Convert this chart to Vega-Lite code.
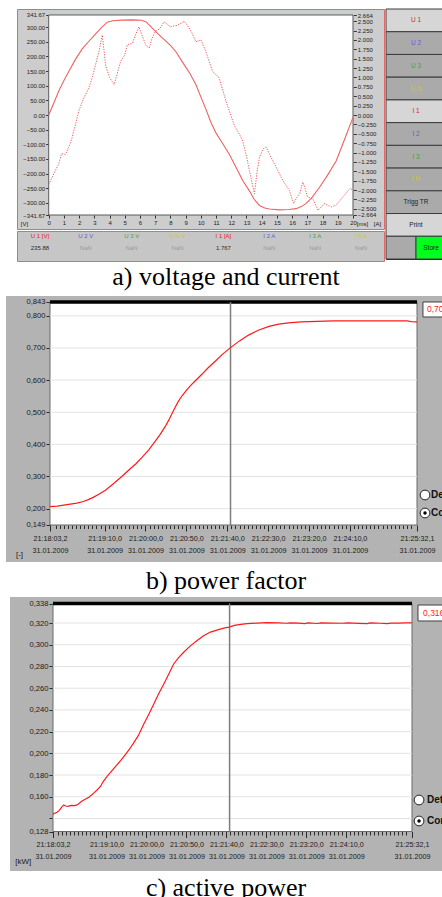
{
"$schema": "https://vega.github.io/schema/vega-lite/v6.json",
"background": "white",
"padding": {"left": 0, "top": 8, "right": 0, "bottom": 0},
"spacing": 0,
"config": {"view": {"stroke": null}, "concat": {"spacing": 0}, "axis": {"labelOverlap": false, "labelFlush": false, "grid": false, "labelBound": false}},
"vconcat": [
{
 "spacing": 0,
 "hconcat": [
  {"width": 15, "height": 250, "data": {"values": [{}]}, "mark": {"type": "point", "opacity": 0}},
  {
   "spacing": 0,
   "vconcat": [
    {
     "width": 367, "height": 220,
     "view": {"fill": "#cdcdcd", "stroke": "#e06a6a"},
     "resolve": {"scale": {"y": "independent"}, "axis": {"x": "independent", "y": "independent"}},
     "layer": [
      {
       "resolve": {"axis": {"x": "independent", "y": "independent"}},
       "layer": [
        {
         "data": {"values": [{}]},
         "mark": {"type": "rect", "fill": "white", "stroke": "#5a5a5a", "strokeWidth": 1},
         "encoding": {
          "x": {"datum": 0, "type": "quantitative", "scale": {"domain": [-2.0835, 22.0375], "nice": false, "zero": false}, "axis": null},
          "x2": {"datum": 20},
          "y": {"datum": -341.67, "type": "quantitative", "scale": {"domain": [-389.5, 362.17], "nice": false, "zero": false}, "axis": null},
          "y2": {"datum": 341.67}
         }
        },
        {
         "data": {"values": [{"t_ms":0,"u_V":0},{"t_ms":0.33,"u_V":40},{"t_ms":0.66,"u_V":82},{"t_ms":1.0,"u_V":118},{"t_ms":1.32,"u_V":149},{"t_ms":1.76,"u_V":190},{"t_ms":2.2,"u_V":226},{"t_ms":2.64,"u_V":252},{"t_ms":3.1,"u_V":278},{"t_ms":3.5,"u_V":300},{"t_ms":3.85,"u_V":317},{"t_ms":4.2,"u_V":322},{"t_ms":4.8,"u_V":324},{"t_ms":5.5,"u_V":325},{"t_ms":6.1,"u_V":324},{"t_ms":6.4,"u_V":318},{"t_ms":6.7,"u_V":303},{"t_ms":7.03,"u_V":285},{"t_ms":7.5,"u_V":262},{"t_ms":8.0,"u_V":238},{"t_ms":8.35,"u_V":217},{"t_ms":8.9,"u_V":172},{"t_ms":9.3,"u_V":140},{"t_ms":9.67,"u_V":104},{"t_ms":10.0,"u_V":62},{"t_ms":10.33,"u_V":20},{"t_ms":10.66,"u_V":-25},{"t_ms":11.0,"u_V":-62},{"t_ms":11.4,"u_V":-95},{"t_ms":11.87,"u_V":-134},{"t_ms":12.3,"u_V":-178},{"t_ms":12.75,"u_V":-224},{"t_ms":13.2,"u_V":-260},{"t_ms":13.5,"u_V":-288},{"t_ms":13.85,"u_V":-309},{"t_ms":14.2,"u_V":-318},{"t_ms":14.5,"u_V":-321},{"t_ms":15.16,"u_V":-324},{"t_ms":15.8,"u_V":-323},{"t_ms":16.26,"u_V":-320},{"t_ms":16.6,"u_V":-313},{"t_ms":16.9,"u_V":-303},{"t_ms":17.3,"u_V":-282},{"t_ms":17.8,"u_V":-247},{"t_ms":18.3,"u_V":-208},{"t_ms":18.9,"u_V":-156},{"t_ms":19.45,"u_V":-83},{"t_ms":20.0,"u_V":-8}]},
         "mark": {"type": "line", "color": "#ef6262", "strokeWidth": 1.1},
         "encoding": {
          "x": {"field": "t_ms", "type": "quantitative", "scale": {"domain": [-2.0835, 22.0375], "nice": false, "zero": false},
                "axis": {"orient": "bottom", "values": [0,1,2,3,4,5,6,7,8,9,10,11,12,13,14,15,16,17,18,19,20], "format": "d", "offset": -14, "domain": false, "grid": false, "tickSize": 3, "tickColor": "#333", "labelFont": "Liberation Sans", "labelFontSize": 6, "labelColor": "#222", "labelPadding": 1, "labelFlush": false, "labelOverlap": false, "title": "[ms]", "titleX": 345, "titleY": 8, "titleAngle": 0, "titleAlign": "center", "titleBaseline": "middle", "titleFont": "Liberation Sans", "titleFontSize": 6, "titleFontWeight": "normal", "titleColor": "#222"}},
          "y": {"field": "u_V", "type": "quantitative", "scale": {"domain": [-389.5, 362.17], "nice": false, "zero": false},
                "axis": {"orient": "left", "values": [-341.67,-300,-250,-200,-150,-100,-50,0,50,100,150,200,250,300,341.67], "format": ".2f", "offset": -31.7, "domain": false, "grid": false, "tickSize": 3, "tickColor": "#333", "labelFont": "Liberation Sans", "labelFontSize": 6, "labelColor": "#222", "labelPadding": 1, "labelOverlap": false, "labelFlush": false, "title": "[V]", "titleX": -24.7, "titleY": 214, "titleAngle": 0, "titleAlign": "center", "titleBaseline": "middle", "titleFont": "Liberation Sans", "titleFontSize": 6, "titleFontWeight": "normal", "titleColor": "#222"}}
         }
        }
       ]
      },
      {
       "data": {"values": [{"t_ms":0,"i_A":-1.85},{"t_ms":0.33,"i_A":-1.57},{"t_ms":0.66,"i_A":-1.3},{"t_ms":0.84,"i_A":-1.03},{"t_ms":1.1,"i_A":-1.05},{"t_ms":1.32,"i_A":-0.86},{"t_ms":1.54,"i_A":-0.6},{"t_ms":1.76,"i_A":-0.25},{"t_ms":1.98,"i_A":0.11},{"t_ms":2.31,"i_A":0.46},{"t_ms":2.64,"i_A":0.72},{"t_ms":2.86,"i_A":0.99},{"t_ms":3.08,"i_A":1.34},{"t_ms":3.3,"i_A":1.69},{"t_ms":3.52,"i_A":2.13},{"t_ms":3.75,"i_A":1.3},{"t_ms":4.0,"i_A":1.0},{"t_ms":4.3,"i_A":0.81},{"t_ms":4.5,"i_A":1.1},{"t_ms":4.73,"i_A":1.43},{"t_ms":5.0,"i_A":1.6},{"t_ms":5.16,"i_A":1.87},{"t_ms":5.5,"i_A":1.91},{"t_ms":5.7,"i_A":2.13},{"t_ms":5.93,"i_A":2.35},{"t_ms":6.15,"i_A":2.1},{"t_ms":6.4,"i_A":1.85},{"t_ms":6.6,"i_A":1.78},{"t_ms":6.8,"i_A":2.05},{"t_ms":7.0,"i_A":2.22},{"t_ms":7.3,"i_A":2.3},{"t_ms":7.58,"i_A":2.48},{"t_ms":8.0,"i_A":2.35},{"t_ms":8.46,"i_A":2.39},{"t_ms":8.9,"i_A":2.5},{"t_ms":9.1,"i_A":2.4},{"t_ms":9.4,"i_A":2.2},{"t_ms":9.67,"i_A":1.95},{"t_ms":10.0,"i_A":2.0},{"t_ms":10.33,"i_A":1.69},{"t_ms":10.77,"i_A":1.16},{"t_ms":11.2,"i_A":0.99},{"t_ms":11.65,"i_A":0.37},{"t_ms":12.2,"i_A":-0.28},{"t_ms":12.53,"i_A":-0.51},{"t_ms":12.75,"i_A":-0.69},{"t_ms":13.0,"i_A":-1.1},{"t_ms":13.19,"i_A":-1.48},{"t_ms":13.52,"i_A":-2.1},{"t_ms":13.7,"i_A":-1.5},{"t_ms":13.85,"i_A":-1.13},{"t_ms":14.1,"i_A":-0.9},{"t_ms":14.3,"i_A":-0.86},{"t_ms":14.5,"i_A":-1.04},{"t_ms":14.95,"i_A":-1.39},{"t_ms":15.38,"i_A":-1.74},{"t_ms":15.82,"i_A":-2.01},{"t_ms":16.1,"i_A":-2.36},{"t_ms":16.3,"i_A":-2.2},{"t_ms":16.5,"i_A":-2.09},{"t_ms":16.7,"i_A":-1.79},{"t_ms":16.85,"i_A":-1.95},{"t_ms":17.0,"i_A":-2.18},{"t_ms":17.36,"i_A":-2.23},{"t_ms":17.7,"i_A":-2.54},{"t_ms":17.9,"i_A":-2.45},{"t_ms":18.1,"i_A":-2.36},{"t_ms":18.57,"i_A":-2.45},{"t_ms":18.9,"i_A":-2.4},{"t_ms":19.34,"i_A":-2.18},{"t_ms":19.8,"i_A":-1.96},{"t_ms":20.0,"i_A":-2.0}]},
       "mark": {"type": "line", "color": "#ef6262", "strokeWidth": 1, "strokeDash": [1.3, 1.3]},
       "encoding": {
        "x": {"field": "t_ms", "type": "quantitative", "scale": {"domain": [-2.0835, 22.0375], "nice": false, "zero": false}, "axis": null},
        "y": {"field": "i_A", "type": "quantitative", "scale": {"domain": [-3.037, 2.824], "nice": false, "zero": false},
              "axis": {"orient": "right", "values": [-2.664,-2.5,-2.25,-2,-1.75,-1.5,-1.25,-1,-0.75,-0.5,-0.25,0,0.25,0.5,0.75,1,1.25,1.5,1.75,2,2.25,2.5,2.664], "format": ".3f", "offset": -30.7, "domain": false, "grid": false, "tickSize": 3, "tickColor": "#333", "labelFont": "Liberation Sans", "labelFontSize": 6, "labelColor": "#222", "labelPadding": 1, "labelOverlap": false, "labelFlush": false, "title": "[A]", "titleX": 23.7, "titleY": 214, "titleAngle": 0, "titleAlign": "center", "titleBaseline": "middle", "titleFont": "Liberation Sans", "titleFontSize": 6, "titleFontWeight": "normal", "titleColor": "#222"}}
       }
      }
     ]
    },
    {
     "width": 367, "height": 30,
     "view": {"fill": "#c6c6c6", "stroke": "#e06a6a"},
     "data": {"values": [
      {"name": "U 1 [V]", "phase": "1", "reading": "235.88"},
      {"name": "U 2 V", "phase": "2", "reading": "NaN"},
      {"name": "U 3 V", "phase": "3", "reading": "NaN"},
      {"name": "U N V", "phase": "N", "reading": "NaN"},
      {"name": "I 1 [A]", "phase": "1", "reading": "1.767"},
      {"name": "I 2 A", "phase": "2", "reading": "NaN"},
      {"name": "I 3 A", "phase": "3", "reading": "NaN"},
      {"name": "I N A", "phase": "N", "reading": "NaN"}
     ]},
     "encoding": {"x": {"field": "name", "type": "nominal", "sort": null, "scale": {"paddingOuter": 0.28, "paddingInner": 0}, "axis": null}},
     "layer": [
      {"mark": {"type": "text", "font": "Liberation Sans", "fontSize": 6, "dy": -10},
       "encoding": {"text": {"field": "name"}, "color": {"field": "phase", "type": "nominal", "scale": {"domain": ["1","2","3","N","-"], "range": ["#e8202a","#5c5cd6","#46a046","#c9c63a","#1e1e1e"]}, "legend": null}}},
      {"mark": {"type": "text", "font": "Liberation Sans", "fontSize": 6, "dy": 2},
       "encoding": {"text": {"field": "reading"}, "color": {"condition": {"test": "datum.reading === 'NaN'", "value": "#9a9a9a"}, "value": "#2a2a2a"}}}
     ]
    }
   ]
  },
  {
   "width": 60, "height": 250,
   "view": {"fill": "#a9a9a9", "stroke": "#7a0000"},
   "data": {"values": [
    {"b": "U 1", "row": 1, "c0": 0, "c1": 2, "state": "on", "phase": "1"},
    {"b": "U 2", "row": 2, "c0": 0, "c1": 2, "state": "off", "phase": "2"},
    {"b": "U 3", "row": 3, "c0": 0, "c1": 2, "state": "off", "phase": "3"},
    {"b": "U N", "row": 4, "c0": 0, "c1": 2, "state": "off", "phase": "N"},
    {"b": "I 1", "row": 5, "c0": 0, "c1": 2, "state": "on", "phase": "1"},
    {"b": "I 2", "row": 6, "c0": 0, "c1": 2, "state": "off", "phase": "2"},
    {"b": "I 3", "row": 7, "c0": 0, "c1": 2, "state": "off", "phase": "3"},
    {"b": "I N", "row": 8, "c0": 0, "c1": 2, "state": "off", "phase": "N"},
    {"b": "Trigg TR", "row": 9, "c0": 0, "c1": 2, "state": "off", "phase": "-"},
    {"b": "Print", "row": 10, "c0": 0, "c1": 2, "state": "on", "phase": "-"},
    {"b": "", "row": 11, "c0": 0, "c1": 1, "state": "off", "phase": "-"},
    {"b": "Store", "row": 11, "c0": 1, "c1": 2, "state": "store", "phase": "-"}
   ]},
   "encoding": {"y": {"field": "row", "type": "ordinal", "scale": {"paddingInner": 0, "paddingOuter": 0}, "axis": null}},
   "layer": [
    {"mark": {"type": "rect", "stroke": "#3c3c3c", "strokeWidth": 1},
     "encoding": {
      "x": {"field": "c0", "type": "quantitative", "scale": {"domain": [0, 2], "nice": false, "zero": false}, "axis": null},
      "x2": {"field": "c1"},
      "fill": {"field": "state", "type": "nominal", "scale": {"domain": ["on","off","store"], "range": ["#d6d6d6","#aaaaaa","#00ff1e"]}, "legend": null}
     }},
    {"transform": [{"filter": "datum.c1 - datum.c0 == 2"}],
     "mark": {"type": "text", "font": "Liberation Sans", "fontSize": 6.5, "dx": 30},
     "encoding": {
      "x": {"field": "c0", "type": "quantitative", "scale": {"domain": [0, 2], "nice": false, "zero": false}, "axis": null},
      "text": {"field": "b"},
      "color": {"field": "phase", "type": "nominal", "scale": {"domain": ["1","2","3","N","-"], "range": ["#e8202a","#5c5cd6","#46a046","#c9c63a","#1e1e1e"]}, "legend": null}
     }},
    {"transform": [{"filter": "datum.c1 - datum.c0 == 1"}],
     "mark": {"type": "text", "font": "Liberation Sans", "fontSize": 6.5, "dx": 15},
     "encoding": {
      "x": {"field": "c0", "type": "quantitative", "scale": {"domain": [0, 2], "nice": false, "zero": false}, "axis": null},
      "text": {"field": "b"},
      "color": {"field": "phase", "type": "nominal", "scale": {"domain": ["1","2","3","N","-"], "range": ["#e8202a","#5c5cd6","#46a046","#c9c63a","#1e1e1e"]}, "legend": null}
     }}
   ]
  }
 ]
},
{"width": 442, "height": 34, "data": {"values": [{"caption": "a) voltage and current"}]},
 "mark": {"type": "text", "font": "Liberation Serif", "fontSize": 26, "baseline": "alphabetic", "dy": 5.5, "dx": 4, "color": "black"},
 "encoding": {"text": {"field": "caption"}}},
{
 "spacing": 0,
 "hconcat": [
  {"width": 4, "height": 266, "data": {"values": [{}]}, "mark": {"type": "point", "opacity": 0}},
  {
   "width": 438, "height": 266,
   "view": {"fill": "#b3b3b3", "stroke": null},
   "resolve": {"axis": {"x": "independent", "y": "independent"}},
   "layer": [
    {"data": {"values": [{}]},
     "mark": {"type": "rect", "fill": "white", "stroke": "#6a6a6a", "strokeWidth": 1},
     "encoding": {
      "x": {"datum": 3.2, "type": "quantitative", "scale": {"domain": [-50.619, 485.125], "nice": false, "zero": false}, "axis": null},
      "x2": {"datum": 452.1},
      "y": {"datum": 0.149, "type": "quantitative", "scale": {"domain": [0.03385, 0.86167], "nice": false, "zero": false}, "axis": null},
      "y2": {"datum": 0.843}
     }},
    {"data": {"values": [{"g": 0.2},{"g": 0.3},{"g": 0.4},{"g": 0.5},{"g": 0.6},{"g": 0.7},{"g": 0.8}]},
     "mark": {"type": "rule", "color": "#e3e3e3", "strokeWidth": 1},
     "encoding": {"y": {"field": "g", "type": "quantitative", "axis": null}, "x": {"datum": 3.2, "type": "quantitative", "axis": null}, "x2": {"datum": 452.1}}},
    {"data": {"values": [{}]},
     "mark": {"type": "rule", "color": "black", "strokeWidth": 3.5},
     "encoding": {"y": {"datum": 0.843, "type": "quantitative", "axis": null}, "x": {"datum": 3.2, "type": "quantitative", "axis": null}, "x2": {"datum": 452.1}}},
    {"data": {"values": [{}]},
     "mark": {"type": "rule", "color": "#7d7d7d", "strokeWidth": 1.5},
     "encoding": {"x": {"datum": 224, "type": "quantitative", "axis": null}, "y": {"datum": 0.149, "type": "quantitative", "axis": null}, "y2": {"datum": 0.843}}},
    {"data": {"values": [{"t_s":3.2,"pf":0.206},{"t_s":12,"pf":0.208},{"t_s":20,"pf":0.211},{"t_s":28,"pf":0.214},{"t_s":36,"pf":0.217},{"t_s":44,"pf":0.222},{"t_s":50,"pf":0.228},{"t_s":56,"pf":0.235},{"t_s":63,"pf":0.245},{"t_s":71,"pf":0.257},{"t_s":80,"pf":0.276},{"t_s":91,"pf":0.3},{"t_s":100,"pf":0.321},{"t_s":108,"pf":0.339},{"t_s":116,"pf":0.36},{"t_s":124,"pf":0.383},{"t_s":132,"pf":0.41},{"t_s":138,"pf":0.431},{"t_s":144,"pf":0.455},{"t_s":148,"pf":0.473},{"t_s":152,"pf":0.494},{"t_s":156,"pf":0.514},{"t_s":160,"pf":0.533},{"t_s":165,"pf":0.552},{"t_s":170,"pf":0.568},{"t_s":175,"pf":0.583},{"t_s":181,"pf":0.598},{"t_s":189,"pf":0.618},{"t_s":197,"pf":0.639},{"t_s":205,"pf":0.658},{"t_s":214,"pf":0.68},{"t_s":224,"pf":0.701},{"t_s":235,"pf":0.722},{"t_s":246,"pf":0.74},{"t_s":258,"pf":0.755},{"t_s":271,"pf":0.767},{"t_s":283,"pf":0.774},{"t_s":295,"pf":0.778},{"t_s":310,"pf":0.781},{"t_s":330,"pf":0.783},{"t_s":350,"pf":0.784},{"t_s":400,"pf":0.784},{"t_s":440,"pf":0.784},{"t_s":445,"pf":0.782},{"t_s":452.1,"pf":0.781}]},
     "mark": {"type": "line", "color": "#ff1a1a", "strokeWidth": 1.2},
     "encoding": {
      "x": {"field": "t_s", "type": "quantitative", "scale": {"domain": [-50.619, 485.125], "nice": false, "zero": false},
            "axis": {"orient": "bottom", "values": [3.2,10,15,20,25,30,35,40,45,50,55,60,65,70,75,80,85,90,95,100,105,110,115,120,125,130,135,140,145,150,155,160,165,170,175,180,185,190,195,200,205,210,215,220,225,230,235,240,245,250,255,260,265,270,275,280,285,290,295,300,305,310,315,320,325,330,335,340,345,350,355,360,365,370,375,380,385,390,395,400,405,410,415,420,425,430,435,440,445,452.1],
                     "offset": -37, "domain": false, "grid": false, "tickColor": "#2a2a2a",
                     "tickSize": {"condition": {"test": "datum.value == 3.2 || datum.value == 452.1 || (datum.value >= 70 && datum.value <= 370 && datum.value % 50 == 20)", "value": 6}, "value": 3.5},
                     "labelExpr": "(datum.value == 3.2 || datum.value == 452.1 || (datum.value >= 70 && datum.value <= 370 && datum.value % 50 == 20)) ? ['21:' + (18 + floor(datum.value / 60)) + ':' + (floor(datum.value % 60) < 10 ? '0' : '') + floor(datum.value % 60) + ',' + (round(datum.value * 10) % 10), '31.01.2009'] : ''",
                     "labelFont": "Liberation Sans", "labelFontSize": 7.2, "labelColor": "#1a1a1a", "labelPadding": 3, "labelLineHeight": 12.5, "labelFlush": false, "labelOverlap": false, "title": null}},
      "y": {"field": "pf", "type": "quantitative", "scale": {"domain": [0.03385, 0.86167], "nice": false, "zero": false},
            "axis": {"orient": "left", "values": [0.149,0.2,0.3,0.4,0.5,0.6,0.7,0.8,0.843], "offset": -44, "domain": false, "grid": false, "tickSize": 4, "tickColor": "#2a2a2a",
                     "labelExpr": "replace(format(datum.value, '.3f'), '.', ',')",
                     "labelFont": "Liberation Sans", "labelFontSize": 7.6, "labelColor": "#1a1a1a", "labelPadding": 1, "labelOverlap": false, "labelFlush": false,
                     "title": "[-]", "titleAngle": 0, "titleX": -31, "titleY": 258, "titleAlign": "center", "titleBaseline": "middle", "titleFont": "Liberation Sans", "titleFontSize": 8, "titleFontWeight": "normal", "titleColor": "#1a1a1a"}}
     }},
    {"data": {"values": [{}]},
     "mark": {"type": "rect", "fill": "white", "stroke": "#404040", "strokeWidth": 1, "clip": true},
     "encoding": {"x": {"datum": 459.4, "type": "quantitative", "axis": null}, "x2": {"datum": 500}, "y": {"datum": 0.79632, "type": "quantitative", "axis": null}, "y2": {"datum": 0.843}}},
    {"data": {"values": [{}]},
     "mark": {"type": "text", "text": "0,700", "align": "left", "baseline": "middle", "color": "#ff2020", "font": "Liberation Sans", "fontSize": 8.5, "clip": true},
     "encoding": {"x": {"datum": 464.3, "type": "quantitative", "axis": null}, "y": {"datum": 0.81966, "type": "quantitative", "axis": null}}},
    {"data": {"values": [{}]},
     "mark": {"type": "point", "shape": "circle", "size": 95, "filled": true, "fill": "white", "stroke": "#222", "strokeWidth": 1, "opacity": 1},
     "encoding": {"x": {"datum": 461.9, "type": "quantitative", "axis": null}, "y": {"datum": 0.24236, "type": "quantitative", "axis": null}}},
    {"data": {"values": [{}]},
     "mark": {"type": "point", "shape": "circle", "size": 95, "filled": true, "fill": "white", "stroke": "#222", "strokeWidth": 1, "opacity": 1},
     "encoding": {"x": {"datum": 461.9, "type": "quantitative", "axis": null}, "y": {"datum": 0.18634, "type": "quantitative", "axis": null}}},
    {"data": {"values": [{}]},
     "mark": {"type": "point", "shape": "circle", "size": 12, "filled": true, "color": "black", "opacity": 1},
     "encoding": {"x": {"datum": 461.9, "type": "quantitative", "axis": null}, "y": {"datum": 0.18634, "type": "quantitative", "axis": null}}},
    {"data": {"values": [{}]},
     "mark": {"type": "text", "text": "Det", "align": "left", "baseline": "middle", "color": "#111", "font": "Liberation Sans", "fontSize": 10, "fontWeight": "bold", "clip": true},
     "encoding": {"x": {"datum": 469.2, "type": "quantitative", "axis": null}, "y": {"datum": 0.24236, "type": "quantitative", "axis": null}}},
    {"data": {"values": [{}]},
     "mark": {"type": "text", "text": "Com", "align": "left", "baseline": "middle", "color": "#111", "font": "Liberation Sans", "fontSize": 10, "fontWeight": "bold", "clip": true},
     "encoding": {"x": {"datum": 469.2, "type": "quantitative", "axis": null}, "y": {"datum": 0.18634, "type": "quantitative", "axis": null}}}
   ]
  }
 ]
},
{"width": 442, "height": 35, "data": {"values": [{"caption": "b) power factor"}]},
 "mark": {"type": "text", "font": "Liberation Serif", "fontSize": 26, "baseline": "alphabetic", "dy": 9.5, "dx": 4, "color": "black"},
 "encoding": {"text": {"field": "caption"}}},
{
 "spacing": 0,
 "hconcat": [
  {"width": 9, "height": 274, "data": {"values": [{}]}, "mark": {"type": "point", "opacity": 0}},
  {
   "width": 433, "height": 274,
   "view": {"fill": "#b3b3b3", "stroke": null},
   "resolve": {"axis": {"x": "independent", "y": "independent"}},
   "layer": [
    {"data": {"values": [{}]},
     "mark": {"type": "rect", "fill": "white", "stroke": "#6a6a6a", "strokeWidth": 1},
     "encoding": {
      "x": {"datum": 3.2, "type": "quantitative", "scale": {"domain": [-50.568, 490.863], "nice": false, "zero": false}, "axis": null},
      "x2": {"datum": 452.1},
      "y": {"datum": 0.128, "type": "quantitative", "scale": {"domain": [0.09162, 0.34399], "nice": false, "zero": false}, "axis": null},
      "y2": {"datum": 0.338}
     }},
    {"data": {"values": [{"g": 0.14},{"g": 0.16},{"g": 0.18},{"g": 0.2},{"g": 0.22},{"g": 0.24},{"g": 0.26},{"g": 0.28},{"g": 0.3},{"g": 0.32}]},
     "mark": {"type": "rule", "color": "#e3e3e3", "strokeWidth": 1},
     "encoding": {"y": {"field": "g", "type": "quantitative", "axis": null}, "x": {"datum": 3.2, "type": "quantitative", "axis": null}, "x2": {"datum": 452.1}}},
    {"data": {"values": [{}]},
     "mark": {"type": "rule", "color": "black", "strokeWidth": 3.5},
     "encoding": {"y": {"datum": 0.338, "type": "quantitative", "axis": null}, "x": {"datum": 3.2, "type": "quantitative", "axis": null}, "x2": {"datum": 452.1}}},
    {"data": {"values": [{}]},
     "mark": {"type": "rule", "color": "#7d7d7d", "strokeWidth": 1.5},
     "encoding": {"x": {"datum": 224, "type": "quantitative", "axis": null}, "y": {"datum": 0.128, "type": "quantitative", "axis": null}, "y2": {"datum": 0.338}}},
    {"data": {"values": [{"t_s":3.2,"p_kW":0.144},{"t_s":6,"p_kW":0.145},{"t_s":8.3,"p_kW":0.1457},{"t_s":11,"p_kW":0.1475},{"t_s":14.6,"p_kW":0.151},{"t_s":16.6,"p_kW":0.1525},{"t_s":19,"p_kW":0.1515},{"t_s":22,"p_kW":0.1512},{"t_s":26,"p_kW":0.152},{"t_s":30,"p_kW":0.1518},{"t_s":33.3,"p_kW":0.1525},{"t_s":36,"p_kW":0.154},{"t_s":39.6,"p_kW":0.156},{"t_s":44,"p_kW":0.158},{"t_s":48,"p_kW":0.1595},{"t_s":54.1,"p_kW":0.1633},{"t_s":58,"p_kW":0.166},{"t_s":62.5,"p_kW":0.1695},{"t_s":66,"p_kW":0.174},{"t_s":70.8,"p_kW":0.1787},{"t_s":77,"p_kW":0.184},{"t_s":83.4,"p_kW":0.1896},{"t_s":88,"p_kW":0.1935},{"t_s":93.7,"p_kW":0.1989},{"t_s":99,"p_kW":0.204},{"t_s":104.1,"p_kW":0.2097},{"t_s":110,"p_kW":0.2165},{"t_s":116.6,"p_kW":0.2267},{"t_s":123,"p_kW":0.236},{"t_s":129.1,"p_kW":0.2452},{"t_s":135,"p_kW":0.2545},{"t_s":141.6,"p_kW":0.2637},{"t_s":148,"p_kW":0.273},{"t_s":154.1,"p_kW":0.2823},{"t_s":160,"p_kW":0.288},{"t_s":166.6,"p_kW":0.2931},{"t_s":175,"p_kW":0.299},{"t_s":183.4,"p_kW":0.3039},{"t_s":191,"p_kW":0.308},{"t_s":200,"p_kW":0.3117},{"t_s":210,"p_kW":0.314},{"t_s":218,"p_kW":0.3155},{"t_s":223.4,"p_kW":0.3163},{"t_s":230,"p_kW":0.3178},{"t_s":238,"p_kW":0.3188},{"t_s":245.9,"p_kW":0.3194},{"t_s":258,"p_kW":0.32},{"t_s":270.9,"p_kW":0.3203},{"t_s":285,"p_kW":0.3201},{"t_s":295,"p_kW":0.3198},{"t_s":300,"p_kW":0.3202},{"t_s":310,"p_kW":0.3199},{"t_s":318,"p_kW":0.3194},{"t_s":322,"p_kW":0.3201},{"t_s":334,"p_kW":0.3196},{"t_s":338,"p_kW":0.3201},{"t_s":350,"p_kW":0.32},{"t_s":365,"p_kW":0.3198},{"t_s":372,"p_kW":0.3201},{"t_s":385,"p_kW":0.3197},{"t_s":396,"p_kW":0.3195},{"t_s":400,"p_kW":0.3201},{"t_s":412,"p_kW":0.3198},{"t_s":421,"p_kW":0.3195},{"t_s":426,"p_kW":0.32},{"t_s":435,"p_kW":0.3199},{"t_s":445,"p_kW":0.3202},{"t_s":452.1,"p_kW":0.3201}]},
     "mark": {"type": "line", "color": "#ff1a1a", "strokeWidth": 1.2},
     "encoding": {
      "x": {"field": "t_s", "type": "quantitative", "scale": {"domain": [-50.568, 490.863], "nice": false, "zero": false},
            "axis": {"orient": "bottom", "values": [3.2,10,15,20,25,30,35,40,45,50,55,60,65,70,75,80,85,90,95,100,105,110,115,120,125,130,135,140,145,150,155,160,165,170,175,180,185,190,195,200,205,210,215,220,225,230,235,240,245,250,255,260,265,270,275,280,285,290,295,300,305,310,315,320,325,330,335,340,345,350,355,360,365,370,375,380,385,390,395,400,405,410,415,420,425,430,435,440,445,452.1],
                     "offset": -39.5, "domain": false, "grid": false, "tickColor": "#2a2a2a",
                     "tickSize": {"condition": {"test": "datum.value == 3.2 || datum.value == 452.1 || (datum.value >= 70 && datum.value <= 370 && datum.value % 50 == 20)", "value": 6}, "value": 3.5},
                     "labelExpr": "(datum.value == 3.2 || datum.value == 452.1 || (datum.value >= 70 && datum.value <= 370 && datum.value % 50 == 20)) ? ['21:' + (18 + floor(datum.value / 60)) + ':' + (floor(datum.value % 60) < 10 ? '0' : '') + floor(datum.value % 60) + ',' + (round(datum.value * 10) % 10), '31.01.2009'] : ''",
                     "labelFont": "Liberation Sans", "labelFontSize": 7.2, "labelColor": "#1a1a1a", "labelPadding": 3, "labelLineHeight": 12, "labelFlush": false, "labelOverlap": false, "title": null}},
      "y": {"field": "p_kW", "type": "quantitative", "scale": {"domain": [0.09162, 0.34399], "nice": false, "zero": false},
            "axis": {"orient": "left", "values": [0.128,0.14,0.16,0.18,0.2,0.22,0.24,0.26,0.28,0.3,0.32,0.338], "offset": -43, "domain": false, "grid": false, "tickSize": 4, "tickColor": "#2a2a2a",
                     "labelExpr": "datum.value == 0.14 ? '' : replace(format(datum.value, '.3f'), '.', ',')",
                     "labelFont": "Liberation Sans", "labelFontSize": 7.6, "labelColor": "#1a1a1a", "labelPadding": 1, "labelOverlap": false, "labelFlush": false,
                     "title": "[kW]", "titleAngle": 0, "titleX": -30.3, "titleY": 264, "titleAlign": "center", "titleBaseline": "middle", "titleFont": "Liberation Sans", "titleFontSize": 8, "titleFontWeight": "normal", "titleColor": "#1a1a1a"}}
     }},
    {"data": {"values": [{}]},
     "mark": {"type": "rect", "fill": "white", "stroke": "#404040", "strokeWidth": 1, "clip": true},
     "encoding": {"x": {"datum": 459.6, "type": "quantitative", "axis": null}, "x2": {"datum": 500}, "y": {"datum": 0.32189, "type": "quantitative", "axis": null}, "y2": {"datum": 0.33662}}},
    {"data": {"values": [{}]},
     "mark": {"type": "text", "text": "0,316", "align": "left", "baseline": "middle", "color": "#ff2020", "font": "Liberation Sans", "fontSize": 8.5, "clip": true},
     "encoding": {"x": {"datum": 465.9, "type": "quantitative", "axis": null}, "y": {"datum": 0.32925, "type": "quantitative", "axis": null}}},
    {"data": {"values": [{}]},
     "mark": {"type": "point", "shape": "circle", "size": 95, "filled": true, "fill": "white", "stroke": "#222", "strokeWidth": 1, "opacity": 1},
     "encoding": {"x": {"datum": 460.9, "type": "quantitative", "axis": null}, "y": {"datum": 0.15702, "type": "quantitative", "axis": null}}},
    {"data": {"values": [{}]},
     "mark": {"type": "point", "shape": "circle", "size": 95, "filled": true, "fill": "white", "stroke": "#222", "strokeWidth": 1, "opacity": 1},
     "encoding": {"x": {"datum": 460.9, "type": "quantitative", "axis": null}, "y": {"datum": 0.13768, "type": "quantitative", "axis": null}}},
    {"data": {"values": [{}]},
     "mark": {"type": "point", "shape": "circle", "size": 12, "filled": true, "color": "black", "opacity": 1},
     "encoding": {"x": {"datum": 460.9, "type": "quantitative", "axis": null}, "y": {"datum": 0.13768, "type": "quantitative", "axis": null}}},
    {"data": {"values": [{}]},
     "mark": {"type": "text", "text": "Det.", "align": "left", "baseline": "middle", "color": "#111", "font": "Liberation Sans", "fontSize": 10, "fontWeight": "bold", "clip": true},
     "encoding": {"x": {"datum": 470.9, "type": "quantitative", "axis": null}, "y": {"datum": 0.15702, "type": "quantitative", "axis": null}}},
    {"data": {"values": [{}]},
     "mark": {"type": "text", "text": "Com", "align": "left", "baseline": "middle", "color": "#111", "font": "Liberation Sans", "fontSize": 10, "fontWeight": "bold", "clip": true},
     "encoding": {"x": {"datum": 470.9, "type": "quantitative", "axis": null}, "y": {"datum": 0.13768, "type": "quantitative", "axis": null}}}
   ]
  }
 ]
},
{"width": 442, "height": 30, "data": {"values": [{"caption": "c) active power"}]},
 "mark": {"type": "text", "font": "Liberation Serif", "fontSize": 26, "baseline": "alphabetic", "dy": 9.7, "dx": 4, "color": "black"},
 "encoding": {"text": {"field": "caption"}}}
]
}
